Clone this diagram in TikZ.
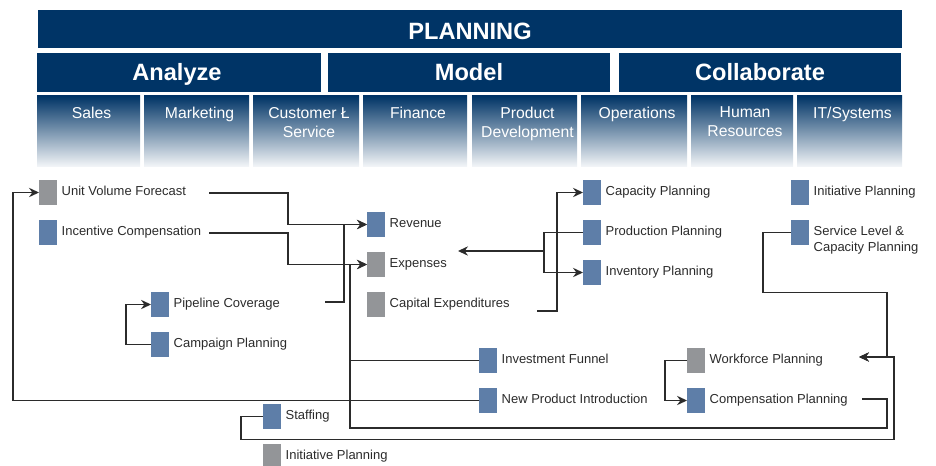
\documentclass[tikz,border=0pt]{standalone}
\usepackage{fontspec}
\setmainfont{Liberation Sans}
\usetikzlibrary{arrows.meta}
\definecolor{navy}{RGB}{0,52,102}
\definecolor{colmid}{RGB}{104,127,170}
\definecolor{boxblue}{RGB}{94,126,168}
\definecolor{boxgray}{RGB}{147,149,152}
\definecolor{ink}{RGB}{43,43,43}
\tikzset{every picture/.style={line width=1pt}}

\begin{document}
\begin{tikzpicture}[x=0.75pt,y=0.75pt,yscale=-1,xscale=1,
    hdr/.style={text=white,font=\bfseries\fontsize{17.7}{20}\selectfont,inner sep=0pt,anchor=base},
    colhead/.style={text=white,font=\fontsize{11.8}{14.25}\selectfont,align=center,anchor=north,inner sep=0pt},
    sqb/.style={fill=boxblue,minimum width=13.5pt,minimum height=18.75pt,inner sep=0pt,outer sep=0pt},
    sqg/.style={sqb,fill=boxgray},
    lbl/.style={text=ink,font=\fontsize{9.75}{12}\selectfont,anchor=base west,inner sep=0pt,xshift=3pt,yshift=-2pt,align=left},
    link/.style={draw=ink,line width=1pt},
    arr/.style={link,-{Stealth[length=7.5pt,width=7pt,inset=2.5pt]}}]

\useasboundingbox (0,0) rectangle (936,466);
\clip (0,0) rectangle (936,466);

%Shape: Rectangle (title bars)
\fill[navy] (38,10) rectangle (902,48);
\fill[navy] (37,53) rectangle (321,92);
\fill[navy] (328,53) rectangle (610,92);
\fill[navy] (619,53) rectangle (901,92);
% Text Node
\node[hdr] (plan) at (470,39.5) {PLANNING};
\node[hdr] (anlz) at (177,80.7) {Analyze};
\node[hdr] (modl) at (469,80.7) {Model};
\node[hdr] (collab) at (760,80.7) {Collaborate};

%Shape: Shaded columns
\foreach \xa/\xb/\nm/\txt in {37/140/sales/Sales, 144/249/mkt/Marketing, 253/359/csvc/{Customer Ł\\Service}, 363/467/fin/Finance, 472/577/pdev/{Product\\Development}, 581/687/ops/Operations, 691/793/hres/{Human\\Resources}, 797/902/itsys/{IT/Systems}}{
  \shade[top color=navy,middle color=colmid,bottom color=white!96!navy] (\xa,96) rectangle (\xb,167);
  \node[colhead] (\nm) at ({(\xa+\xb)/2+3},106.5) {\txt};
}

%Shape: Squares and labels
\node[sqg] (uvf) at (48,192.5) {};
\node[lbl] (uvft) at (uvf.east) {Unit Volume Forecast};
\node[sqb] (ic) at (48,232.5) {};
\node[lbl] (ict) at (ic.east) {Incentive Compensation};
\node[sqb] (pc) at (160,304.5) {};
\node[lbl] (pct) at (pc.east) {Pipeline Coverage};
\node[sqb] (cp) at (160,344.5) {};
\node[lbl] (cpt) at (cp.east) {Campaign Planning};
\node[sqb] (rev) at (376,224.5) {};
\node[lbl] (revt) at (rev.east) {Revenue};
\node[sqg] (exp) at (376,264.5) {};
\node[lbl] (expt) at (exp.east) {Expenses};
\node[sqg] (capex) at (376,304.5) {};
\node[lbl] (capext) at (capex.east) {Capital Expenditures};
\node[sqb] (capp) at (592,192.5) {};
\node[lbl] (cappt) at (capp.east) {Capacity Planning};
\node[sqb] (prodp) at (592,232.5) {};
\node[lbl] (prodpt) at (prodp.east) {Production Planning};
\node[sqb] (invp) at (592,272.5) {};
\node[lbl] (invpt) at (invp.east) {Inventory Planning};
\node[sqb] (initp) at (800,192.5) {};
\node[lbl] (initpt) at (initp.east) {Initiative Planning};
\node[sqb] (slcp) at (800,232.5) {};
\node[lbl,yshift=-12pt] (slcpt) at (slcp.east) {Service Level \&\\Capacity Planning};
\node[sqb] (invf) at (488,360.5) {};
\node[lbl] (invft) at (invf.east) {Investment Funnel};
\node[sqb] (npi) at (488,400.5) {};
\node[lbl] (npit) at (npi.east) {New Product Introduction};
\node[sqg] (wfp) at (696,360.5) {};
\node[lbl] (wfpt) at (wfp.east) {Workforce Planning};
\node[sqb] (comp) at (696,400.5) {};
\node[lbl] (compt) at (comp.east) {Compensation Planning};
\node[sqb] (staff) at (272,416.5) {};
\node[lbl] (stafft) at (staff.east) {Staffing};
\node[sqg] (initq) at (272,456.5) {};
\node[lbl] (initqt) at (initq.east) {Initiative Planning};

%Connectors
\coordinate (uvfout) at (209,193);
\coordinate (icout) at (209,233);
\coordinate (pcout) at (325,302);
\coordinate (capexout) at (537,311);
\coordinate (compout) at (862,399);
\coordinate (opsj) at (544,251);
\coordinate (expin) at (458,251);
\coordinate (hrj) at (887,357);
\coordinate (wfpin) at (859,357);

\draw[arr] (uvfout) -- ++(79,0) |- (rev.west);
\draw[arr] (icout) -- ++(79,0) |- (exp.west);
\draw[arr] (pcout) -- ++(19,0) |- (rev.west);
\draw[arr] (compout) -- ++(25,0) -- ++(0,29) -| ([xshift=-12.75pt]exp.west) -- (exp.west);
\draw[link] (invf.west) -- ++(-129,0);
\draw[arr] (npi.west) -- ++(-466,0) |- (uvf.west);
\draw[arr] (prodp.west) -- ++(-39,0) |- (invp.west);
\draw[arr] (opsj) -- (expin);
\draw[arr] (capexout) -- ++(20,0) |- (capp.west);
\draw[arr] (cp.west) -- ++(-25,0) |- (pc.west);
\draw[arr] (slcp.west) -- ++(-28,0) -- ++(0,60) -| (hrj) -- (wfpin);
\draw[arr] (staff.west) -- ++(-22,0) -- ++(0,23) -| ([xshift=5.25pt]hrj) -- (wfpin);
\draw[arr] (wfp.west) -- ++(-22,0) |- (comp.west);

\end{tikzpicture}
\end{document}
